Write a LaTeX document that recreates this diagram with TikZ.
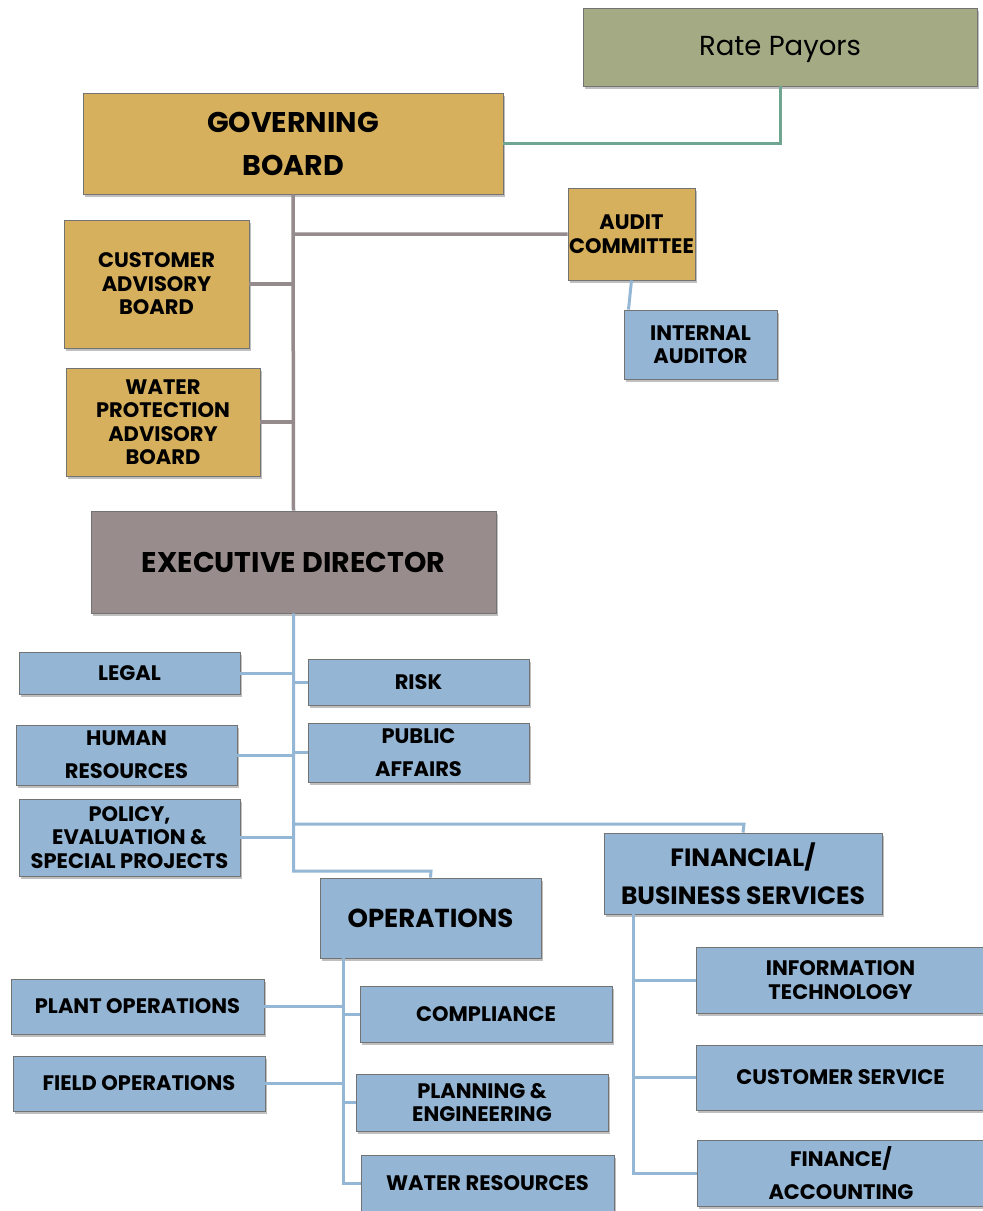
\documentclass[tikz,border=0pt]{standalone}
\usepackage{fontspec}
\setmainfont{Poppins}
\usetikzlibrary{shadows}
\definecolor{goldfill}{HTML}{D6B05C}
\definecolor{bluefill}{HTML}{94B5D3}
\definecolor{greyfill}{HTML}{988D8C}
\definecolor{olivefill}{HTML}{A3AA84}
\definecolor{greyline}{HTML}{958B8D}
\definecolor{tealline}{HTML}{6EA691}
\definecolor{blueline}{HTML}{94B7D5}
\tikzset{
  box/.style={draw=black!55, line width=0.8pt, align=center, inner sep=0pt,
    drop shadow={shadow xshift=2pt, shadow yshift=-3pt, opacity=0.5}},
  goldbox/.style={box, fill=goldfill},
  bluebox/.style={box, fill=bluefill},
  big/.style={font=\fontsize{28.5}{43}\selectfont\bfseries},
  small/.style={font=\fontsize{21}{23.5}\selectfont\bfseries},
  loose/.style={font=\fontsize{21}{33}\selectfont\bfseries},
  link/.style={line width=3pt, blueline}
}
\begin{document}
\begin{tikzpicture}[x=1pt, y=-1pt]
\useasboundingbox (0,0) rectangle (983,1211);

\node[box, fill=olivefill, minimum width=394, minimum height=78, text depth=3pt,
      font=\fontsize{27.5}{30}\selectfont] (rp) at (780,47) {Rate Payors};
\node[goldbox, big, minimum width=420, minimum height=101] (gb) at (293,143.5) {GOVERNING\\BOARD};
\node[goldbox, small, minimum width=185, minimum height=128] (cab) at (156.5,284) {CUSTOMER\\ADVISORY\\BOARD};
\node[goldbox, small, minimum width=194, minimum height=108] (wpab) at (163,422) {WATER\\PROTECTION\\ADVISORY\\BOARD};
\node[goldbox, small, minimum width=127, minimum height=92] (ac) at (631.5,234) {AUDIT\\COMMITTEE};
\node[bluebox, small, minimum width=153, minimum height=69] (ia) at (700.5,344.5) {INTERNAL\\AUDITOR};
\node[box, fill=greyfill, big, minimum width=405, minimum height=102] (ed) at (293.5,562) {EXECUTIVE DIRECTOR};

\node[bluebox, small, minimum width=221, minimum height=42] (legal) at (129.5,673) {LEGAL};
\node[bluebox, small, minimum width=221, minimum height=46] (risk) at (418.5,682) {RISK};
\node[bluebox, loose, minimum width=221, minimum height=60] (hr) at (126.5,755) {HUMAN\\RESOURCES};
\node[bluebox, loose, minimum width=221, minimum height=59] (pa) at (418.5,752.5) {PUBLIC\\AFFAIRS};
\node[bluebox, small, minimum width=221, minimum height=77] (pol) at (129.5,837.5) {POLICY,\\EVALUATION \&\\SPECIAL PROJECTS};
\node[bluebox, font=\fontsize{25}{38}\selectfont\bfseries, minimum width=278, minimum height=81] (fbs) at (743,873.5) {FINANCIAL/\\BUSINESS SERVICES};
\node[bluebox, font=\fontsize{26}{30}\selectfont\bfseries, minimum width=221, minimum height=80] (ops) at (430.5,918) {OPERATIONS};

\node[bluebox, small, minimum width=253, minimum height=55] (plant) at (137.5,1006.5) {PLANT OPERATIONS};
\node[bluebox, small, minimum width=252, minimum height=55] (field) at (139,1083.5) {FIELD OPERATIONS};
\node[bluebox, small, minimum width=252, minimum height=56] (comp) at (486,1014) {COMPLIANCE};
\node[bluebox, small, minimum width=252, minimum height=57] (plan) at (482,1102.5) {PLANNING \&\\ENGINEERING};
\node[bluebox, small, minimum width=253, minimum height=56] (wr) at (487.5,1183) {WATER RESOURCES};

\node[bluebox, small, minimum width=289, minimum height=66] (it) at (840.5,980) {INFORMATION\\TECHNOLOGY};
\node[bluebox, small, minimum width=289, minimum height=65] (cs) at (840.5,1077.5) {CUSTOMER SERVICE};
\node[bluebox, loose, minimum width=288, minimum height=66] (fa) at (841,1173) {FINANCE/\\ACCOUNTING};

\draw[line width=3pt, tealline] (rp.south) |- (gb.east);
\draw[line width=3.5pt, greyline] (gb.south) -- (ed.north)
     (ac.west) -- (ac.west -| gb.south);
\foreach \n in {cab,wpab}
  \draw[line width=3.5pt, greyline] (\n.east) -- (\n.east -| gb.south);
\draw[link] (ac.south) -- ([xshift=-3pt]ac.south |- ia.north);

\coordinate (opsj) at (431,871);
\coordinate (finj) at (744,824);
\draw[link] (ed.south) |- (opsj) -- (ops.north)
     (ed.south |- finj) -- (finj) -- (fbs.north);
\foreach \n in {legal,hr,pol}
  \draw[link] (\n.east) -- (\n.east -| ed.south);
\foreach \n in {risk,pa}
  \draw[link] (\n.west) -- (\n.west -| ed.south);

\coordinate (opsb) at (343,958);
\draw[link] (opsb) |- (wr.west);
\foreach \n in {plant,field}
  \draw[link] (\n.east) -- (\n.east -| opsb);
\foreach \n in {comp,plan}
  \draw[link] (\n.west) -- (\n.west -| opsb);

\coordinate (fbsb) at (633,914);
\draw[link] (fbsb) |- (fa.west);
\foreach \n in {it,cs}
  \draw[link] (\n.west) -- (\n.west -| fbsb);
\end{tikzpicture}
\end{document}
